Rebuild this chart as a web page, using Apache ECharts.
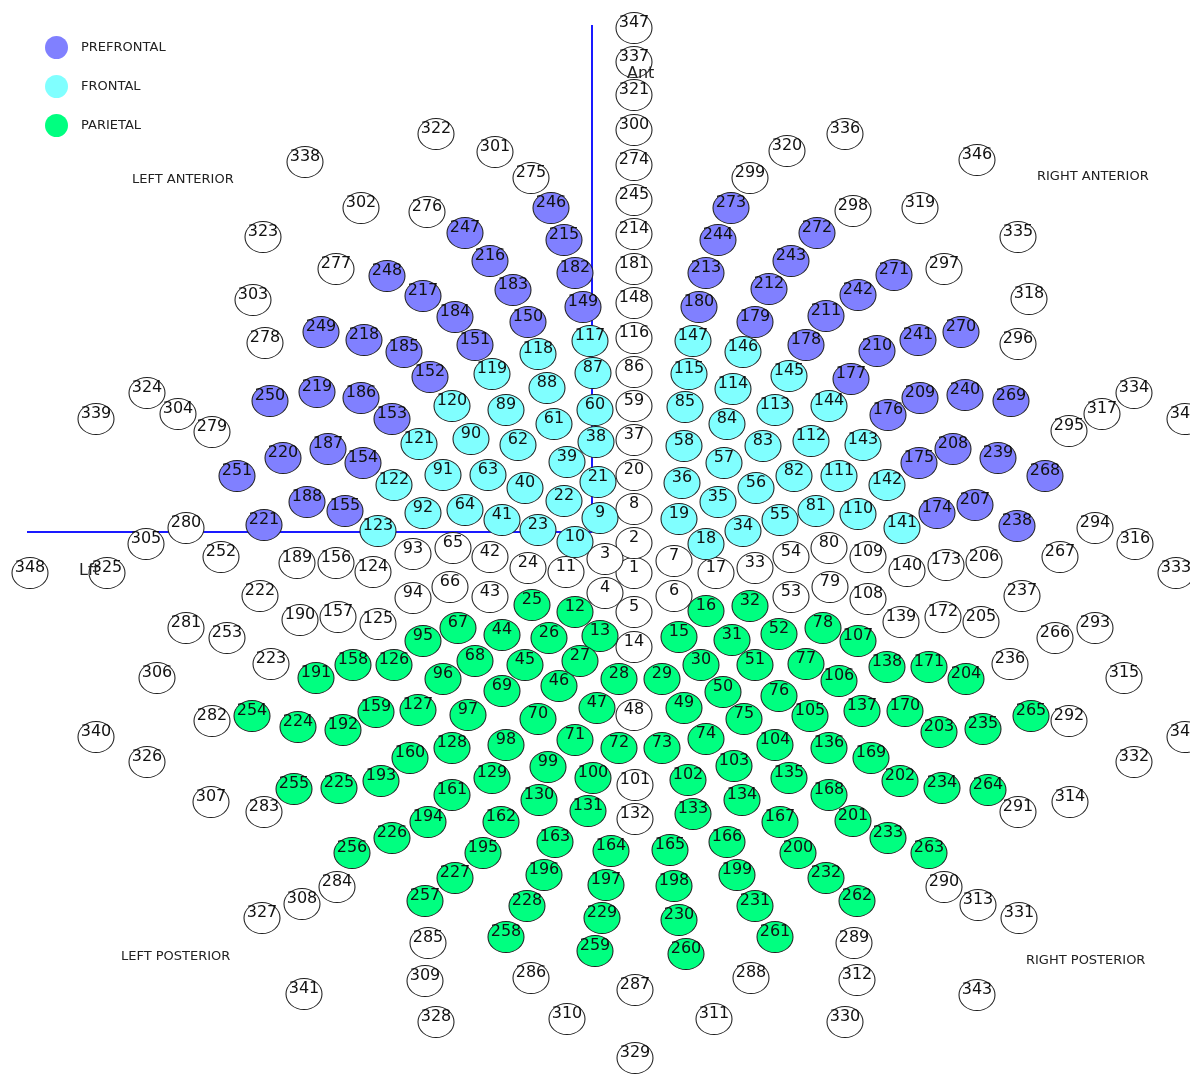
<!DOCTYPE html>
<html>
<head>
<meta charset="utf-8" />
<title>Electrode layout</title>
<script src="https://cdn.jsdelivr.net/npm/echarts@6/dist/echarts.min.js"></script>
<style>
  html, body { margin: 0; padding: 0; background: #fff; }
  #chart { width: 1190px; height: 1074px; }
</style>
</head>
<body>
<div id="chart"></div>
<script type="text/javascript">
// electrode rings: [number, x, y] (picture coordinates)
var ring1 = [[1,634,573]];
var ring2 = [[2,634,543],[3,605,559],[4,605,593],[5,634,612],[6,674,596],[7,674,561]];
var ring3 = [[8,634,509],[9,600,518],[10,575,542],[11,566,572],[12,575,612],[13,600,636],[14,634,647],[15,679,637],[16,706,611],[17,716,573],[18,706,544],[19,679,519]];
var ring4 = [[20,634,475],[21,598,482],[22,564,501],[23,538,530],[24,528,568],[25,532,605],[26,549,638],[27,580,661],[28,619,679],[29,662,679],[30,701,665],[31,732,640],[32,750,606],[33,755,568],[34,743,531],[35,718,502],[36,682,483]];
var ring5 = [[37,634,440],[38,596,442],[39,567,462],[40,525,488],[41,502,520],[42,490,557],[43,490,597],[44,502,635],[45,525,665],[46,559,686],[47,597,708],[48,634,715],[49,684,708],[50,723,692],[51,755,665],[52,779,634],[53,791,597],[54,791,557],[55,780,520],[56,756,488],[57,724,463],[58,684,446]];
var ring6 = [[59,634,406],[60,595,410],[61,554,424],[62,518,445],[63,488,475],[64,465,510],[65,453,548],[66,450,587],[67,458,628],[68,475,661],[69,502,691],[70,538,719],[71,575,740],[72,619,748],[73,662,748],[74,706,739],[75,744,719],[76,779,696],[77,806,664],[78,823,628],[79,830,587],[80,829,548],[81,816,511],[82,794,476],[83,763,446],[84,727,424],[85,685,407]];
var ring7 = [[86,634,372],[87,593,373],[88,547,388],[89,506,410],[90,471,439],[91,443,475],[92,423,513],[93,413,554],[94,413,598],[95,423,641],[96,443,679],[97,468,715],[98,506,745],[99,548,767],[100,593,778],[101,635,785],[102,688,780],[103,734,766],[104,775,745],[105,810,716],[106,839,681],[107,858,641],[108,868,599],[109,868,557],[110,858,514],[111,839,476],[112,811,441],[113,775,410],[114,733,389],[115,689,374]];
var ring8 = [[116,634,338],[117,590,341],[118,538,354],[119,492,374],[120,452,406],[121,419,444],[122,394,485],[123,378,531],[124,373,572],[125,378,624],[126,394,665],[127,418,710],[128,452,748],[129,492,778],[130,539,800],[131,588,811],[132,635,819],[133,693,814],[134,742,800],[135,789,778],[136,829,748],[137,862,711],[138,887,667],[139,901,622],[140,907,571],[141,902,528],[142,887,485],[143,863,445],[144,829,406],[145,789,376],[146,743,352],[147,693,341]];
var ring9 = [[148,634,303],[149,583,307],[150,528,322],[151,475,345],[152,430,377],[153,392,419],[154,363,463],[155,345,511],[156,336,563],[157,338,617],[158,353,665],[159,376,712],[160,410,758],[161,452,795],[162,501,822],[163,555,842],[164,611,851],[165,670,850],[166,727,842],[167,780,822],[168,829,795],[169,871,758],[170,905,711],[171,929,667],[172,943,617],[173,946,565],[174,937,513],[175,919,463],[176,888,415],[177,851,379],[178,806,345],[179,755,322],[180,699,307]];
var ring10 = [[181,634,269],[182,575,273],[183,513,290],[184,455,317],[185,404,352],[186,361,398],[187,328,449],[188,307,502],[189,297,563],[190,300,620],[191,316,678],[192,343,730],[193,381,781],[194,428,822],[195,483,853],[196,544,875],[197,606,885],[198,674,886],[199,737,875],[200,798,853],[201,853,821],[202,900,781],[203,939,732],[204,966,679],[205,981,622],[206,984,562],[207,975,505],[208,953,449],[209,920,398],[210,877,351],[211,826,316],[212,769,289],[213,706,273]];
var ring11 = [[214,634,234],[215,564,240],[216,490,261],[217,423,296],[218,364,340],[219,317,392],[220,283,458],[221,264,525],[222,260,596],[223,271,664],[224,298,727],[225,339,788],[226,392,838],[227,455,878],[228,527,906],[229,602,918],[230,679,920],[231,755,906],[232,826,878],[233,888,838],[234,942,788],[235,983,729],[236,1010,664],[237,1022,596],[238,1017,526],[239,998,458],[240,965,395],[241,918,340],[242,858,295],[243,791,261],[244,718,240]];
var ring12 = [[245,634,200],[246,551,208],[247,465,233],[248,387,276],[249,321,332],[250,270,401],[251,237,476],[252,221,557],[253,227,638],[254,252,716],[255,294,789],[256,352,853],[257,425,901],[258,506,937],[259,595,951],[260,686,954],[261,775,937],[262,857,901],[263,929,853],[264,988,790],[265,1031,716],[266,1055,638],[267,1060,557],[268,1045,476],[269,1011,401],[270,961,332],[271,894,275],[272,817,233],[273,731,208]];
var ring13 = [[274,634,165],[275,531,178],[276,427,212],[277,336,269],[278,265,343],[279,212,432],[280,186,528],[281,186,628],[282,212,721],[283,264,812],[284,337,887],[285,428,943],[286,531,978],[287,635,990],[288,751,978],[289,854,943],[290,944,887],[291,1018,812],[292,1069,721],[293,1095,628],[294,1095,528],[295,1069,431],[296,1018,344],[297,944,269],[298,853,211],[299,750,178]];
var ring14 = [[300,634,130],[301,495,152],[302,361,208],[303,253,300],[304,178,414],[305,146,544],[306,157,678],[307,211,802],[308,302,904],[309,425,981],[310,567,1019],[311,714,1019],[312,857,980],[313,978,905],[314,1070,802],[315,1124,678],[316,1135,544],[317,1102,414],[318,1029,299],[319,920,208],[320,787,151]];
var ring15 = [[321,634,95],[322,436,134],[323,263,237],[324,147,393],[325,107,573],[326,147,762],[327,262,918],[328,436,1022],[329,635,1058],[330,845,1022],[331,1019,918],[332,1134,762],[333,1176,573],[334,1134,393],[335,1018,237],[336,845,134]];
var ring16 = [[337,634,62],[338,305,162],[339,96,419],[340,96,737],[341,304,994],[343,977,995],[344,1185,737],[345,1185,419],[346,977,160]];
var ring17 = [[347,634,28],[348,30,573]];

// region membership
var prefrontal = [149,150,151,152,153,154,155,174,175,176,177,178,179,180,182,183,184,185,186,187,188,207,208,209,210,211,212,213,215,216,217,218,219,220,221,238,239,240,241,242,243,244,246,247,248,249,250,251,268,269,270,271,272,273];
var frontal = [9,10,18,19,21,22,23,34,35,36,38,39,40,41,55,56,57,58,60,61,62,63,64,81,82,83,84,85,87,88,89,90,91,92,110,111,112,113,114,115,117,118,119,120,121,122,123,141,142,143,144,145,146,147];
var parietal = [12,13,15,16,25,26,27,28,29,30,31,32,44,45,46,47,49,50,51,52,67,68,69,70,71,72,73,74,75,76,77,78,95,96,97,98,99,100,102,103,104,105,106,107,126,127,128,129,130,131,133,134,135,136,137,138,158,159,160,161,162,163,164,165,166,167,168,169,170,171,191,192,193,194,195,196,197,198,199,200,201,202,203,204,224,225,226,227,228,229,230,231,232,233,234,235,254,255,256,257,258,259,260,261,262,263,264,265];

// blue reference lines
var crossLine = [[592,25],[592,532],[27,532]];

var allPts = [].concat(ring1,ring2,ring3,ring4,ring5,ring6,ring7,ring8,ring9,ring10,ring11,ring12,ring13,ring14,ring15,ring16,ring17);

function pick(list){
	return allPts.filter(function(p){ return list.indexOf(p[0]) >= 0; })
		.map(function(p){ return [p[1], p[2], p[0]]; });
}
var others = allPts.filter(function(p){
	return prefrontal.indexOf(p[0]) < 0 && frontal.indexOf(p[0]) < 0 && parietal.indexOf(p[0]) < 0;
}).map(function(p){ return [p[1], p[2], p[0]]; });

function dotSeries(name, color, data){
	return {
		name: name,
		type: 'scatter',
		data: data,
		z: 3,
		symbol: 'circle',
		symbolSize: [36, 31],
		itemStyle: { color: color, borderColor: '#222', borderWidth: 1, opacity: 1 },
		label: {
			show: true,
			position: 'inside',
			offset: [0, -5],
			formatter: function(p){ return p.value[2]; },
			color: '#111',
			fontSize: 16,
			fontFamily: 'DejaVu Sans'
		},
		emphasis: { disabled: true }
	};
}

var corner = { fontSize: 13, fontFamily: 'DejaVu Sans', fill: '#222' };
function cornerText(txt, x, y){
	return { type: 'text', x: x, y: y, z: 10,
		style: { text: txt, fontSize: corner.fontSize, fontFamily: corner.fontFamily, fill: corner.fill, verticalAlign: 'middle' } };
}

var myChart = echarts.init(document.getElementById('chart'));
var option = {
	animation: false,
	backgroundColor: '#fff',
	grid: { left: 0, right: 0, top: 0, bottom: 0 },
	xAxis: { type: 'value', min: 0, max: 1190, show: false },
	yAxis: { type: 'value', min: 0, max: 1074, inverse: true, show: false },
	legend: {
		data: ['PREFRONTAL', 'FRONTAL', 'PARIETAL'],
		orient: 'vertical',
		left: 40,
		top: 31,
		icon: 'circle',
		itemWidth: 23,
		itemHeight: 23,
		itemGap: 16,
		itemStyle: { borderWidth: 0 },
		selectedMode: false,
		textStyle: { fontSize: 13, fontFamily: 'DejaVu Sans', color: '#222', padding: [0, 0, 0, 8] }
	},
	graphic: [
		cornerText('LEFT ANTERIOR', 132, 180),
		cornerText('RIGHT ANTERIOR', 1037, 177),
		cornerText('LEFT POSTERIOR', 121, 957),
		cornerText('RIGHT POSTERIOR', 1026, 961),
		{ type: 'text', x: 627, y: 74, z: 10,
			style: { text: 'Ant', fontSize: 16, fontFamily: 'DejaVu Sans', fill: '#222', verticalAlign: 'middle' } },
		{ type: 'text', x: 79, y: 571, z: 10,
			style: { text: 'Lft', fontSize: 16, fontFamily: 'DejaVu Sans', fill: '#222', verticalAlign: 'middle' } }
	],
	series: [
		{
			type: 'line',
			data: crossLine,
			z: 1,
			symbol: 'none',
			silent: true,
			lineStyle: { color: '#1a1aff', width: 2 }
		},
		dotSeries('other', '#ffffff', others),
		dotSeries('PREFRONTAL', '#8080ff', pick(prefrontal)),
		dotSeries('FRONTAL', '#80ffff', pick(frontal)),
		dotSeries('PARIETAL', '#00ff80', pick(parietal))
	]
};
myChart.setOption(option);
</script>
</body>
</html>
